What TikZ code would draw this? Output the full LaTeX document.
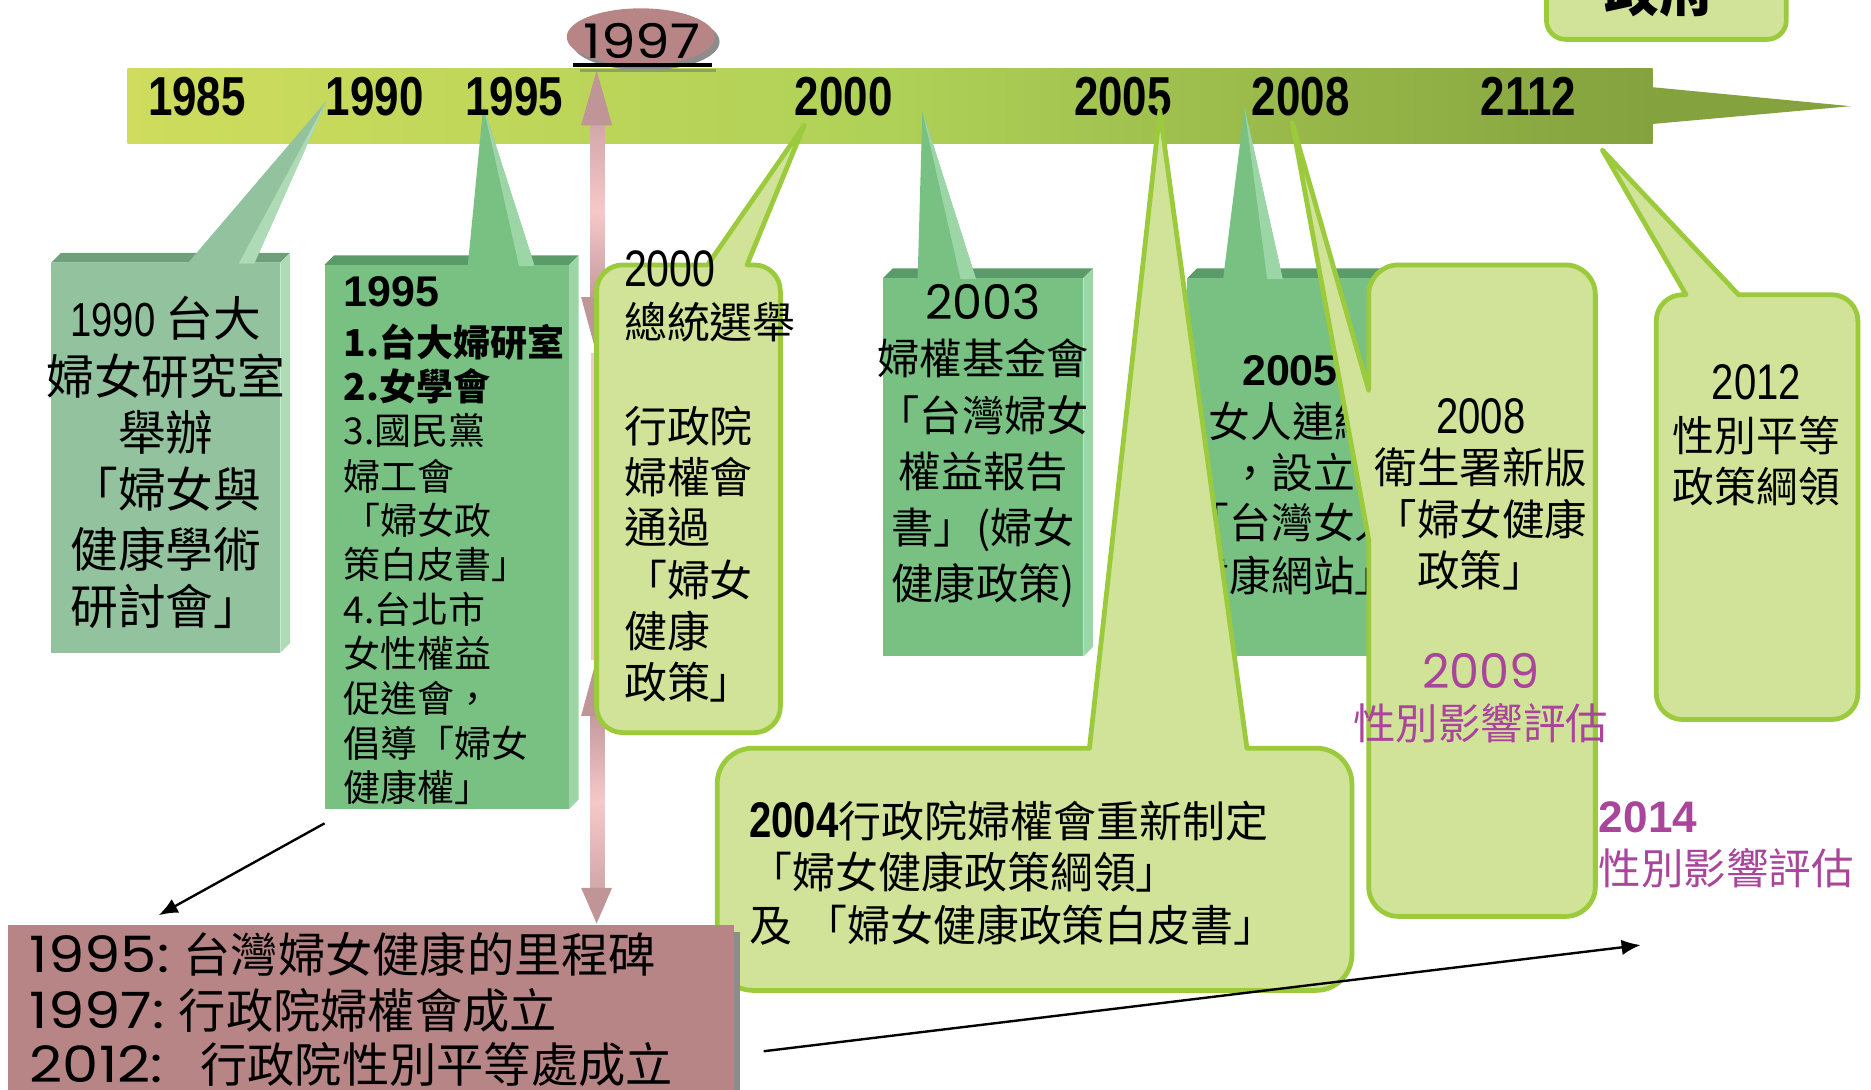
\documentclass[tikz,border=0pt]{standalone}
\usepackage{fontspec}
\usetikzlibrary{arrows.meta}
\newfontfamily\cjk{Noto Sans CJK TC}
\newfontfamily\nar[FakeStretch=0.8]{Liberation Sans}
\newfontfamily\lib{Liberation Sans}
\newfontfamily\geo{Poppins}
\newfontfamily\geow[FakeStretch=1.15]{Poppins}
\definecolor{barL}{HTML}{CFDC5D}
\definecolor{barM}{HTML}{AFD157}
\definecolor{barR}{HTML}{84A23E}
\definecolor{gA}{HTML}{93C39E}
\definecolor{gAt}{HTML}{6F9F7B}
\definecolor{gAs}{HTML}{AEDAB5}
\definecolor{gB}{HTML}{78C183}
\definecolor{gBt}{HTML}{5B9B69}
\definecolor{gBs}{HTML}{9DD6A6}
\definecolor{lgf}{HTML}{D1E399}
\definecolor{lgb}{HTML}{9BCB3C}
\definecolor{rose}{HTML}{B88586}
\definecolor{mag}{HTML}{A9459B}
\definecolor{pinkA}{HTML}{F6C8CA}
\definecolor{pk1}{HTML}{D2A7AA}
\definecolor{pk2}{HTML}{C49A9D}
\definecolor{mauve}{HTML}{BF9598}
\definecolor{ulsh}{HTML}{8DA35B}
\newcommand\tdbox[7]{%
 \fill[#6] (#1,#2) -- ({#1+8},{#2-8}) -- ({#3+8},{#2-8}) -- (#3,#2) -- cycle;
 \fill[#7] (#3,#2) -- ({#3+8},{#2-8}) -- ({#3+8},{#4-8}) -- (#3,#4) -- cycle;
 \fill[#5] (#1,#2) rectangle (#3,#4);}
\newcommand\tdptr[7]{%
 \fill[#6] (#1,#2) -- (#3,#5) -- (#4,#5) -- cycle;
 \fill[#7] (#1,#2) -- ({#4-13},#5) -- (#4,#5) -- cycle;}
\newcommand\cbox[6]{%
 \draw[callout] (#1,{#2+#5}) arc[start angle=180,end angle=270,radius=#5] #6 -- ({#3-#5},#2) arc[start angle=270,end angle=360,radius=#5] -- (#3,{#4-#5}) arc[start angle=0,end angle=90,radius=#5] -- ({#1+#5},#4) arc[start angle=90,end angle=180,radius=#5] -- cycle;}
\begin{document}
\begin{tikzpicture}[x=0.5pt,y=-0.5pt,
  cj/.style={inner sep=0pt,outer sep=0pt,text height=0.83em,text depth=0.07em},
  nm/.style={inner sep=0pt,outer sep=0pt,text height=0.72em,text depth=0pt},
  callout/.style={fill=lgf,draw=lgb,line width=2pt,line join=round},
  blk/.style={line width=1pt,-{Latex[length=8pt,width=6.5pt]}}]
\useasboundingbox (0,0) rectangle (1568,913);
% timeline bar
\shade[left color=barL,right color=barR,middle color=barM] (107,57) rectangle (1385,120);
\fill[barR] (1384,73) -- (1551,89) -- (1384,104) -- cycle;
% pink vertical arrows
\shade[top color=pk1,bottom color=pk2,middle color=pinkA] (495,104) rectangle (507,250);
\fill[pinkA] (495,296) rectangle (507,553);
\shade[top color=pk2,bottom color=pk1,middle color=pinkA] (495,599) rectangle (507,745);
\fill[mauve] (500,59) -- (487,105) -- (513,105) -- cycle;
\fill[mauve] (500,297) -- (487,249) -- (513,249) -- cycle;
\fill[mauve] (500,552) -- (487,600) -- (513,600) -- cycle;
\fill[mauve] (500,774) -- (487,744) -- (513,744) -- cycle;
% box A (1990)
\tdbox{43}{220}{235}{547}{gA}{gAt}{gAs}
\tdptr{274}{84}{157}{213}{221}{gA}{gAs}
\begin{scope}\cjk\fontsize{20pt}{24pt}\selectfont
\node[cj] (a1) at (139,267) {{\nar 1990} 台大};
\node[cj] (a2) at (139,315) {婦女研究室};
\node[cj] (a3) at (139,362) {舉辦};
\node[cj] (a4) at (139,410) {「婦女與};
\node[cj] (a5) at (139,460) {健康學術};
\node[cj] (a6) at (139,508) {研討會」};
\end{scope}
% box B (1995)
\tdbox{272}{222}{477}{678}{gB}{gBt}{gBs}
\tdptr{405}{89}{392}{448}{223}{gB}{gBs}
\begin{scope}\lib\bfseries\fontsize{18pt}{20pt}\selectfont
\node[nm,anchor=west] (b0) at (288,244) {1995};
\end{scope}
\begin{scope}\cjk\fontsize{15.5pt}{18pt}\selectfont
\node[cj,anchor=west] (b1) at (288,287) {\bfseries 1.台大婦研室};
\node[cj,anchor=west] (b2) at (288,324) {\bfseries 2.女學會};
\node[cj,anchor=west] (b3) at (288,361) {3.國民黨};
\node[cj,anchor=west] (b4) at (288,399) {婦工會};
\node[cj,anchor=west] (b5) at (288,436) {「婦女政};
\node[cj,anchor=west] (b6) at (288,473) {策白皮書」};
\node[cj,anchor=west] (b7) at (288,511) {4.台北市};
\node[cj,anchor=west] (b8) at (288,548) {女性權益};
\node[cj,anchor=west] (b9) at (288,585) {促進會，};
\node[cj,anchor=west] (b10) at (288,623) {倡導「婦女};
\node[cj,anchor=west] (b11) at (288,660) {健康權」};
\end{scope}
% box D (2003)
\tdbox{740}{233}{908}{550}{gB}{gBt}{gBs}
\tdptr{773}{93}{769}{818}{234}{gB}{gBs}
\begin{scope}\geo\fontsize{20pt}{24pt}\selectfont
\node[nm] (d0) at (824,253) {2003};
\end{scope}
\begin{scope}\cjk\fontsize{17.7pt}{20pt}\selectfont
\node[cj] (d1) at (824,300) {婦權基金會};
\node[cj] (d2) at (824,348) {「台灣婦女};
\node[cj] (d3) at (824,395) {權益報告};
\node[cj] (d4) at (824,442) {書」(婦女};
\node[cj] (d5) at (824,489) {健康政策)};
\end{scope}
% box E (2005)
\tdbox{995}{233}{1180}{550}{gB}{gBt}{gBs}
\tdptr{1043}{90}{1025}{1075}{234}{gB}{gBs}
\begin{scope}\lib\bfseries\fontsize{18pt}{20pt}\selectfont
\node[nm] (e0) at (1081,310) {2005};
\end{scope}
\begin{scope}\cjk\fontsize{17.5pt}{20pt}\selectfont
\node[cj] (e1) at (1083,353) {女人連線};
\node[cj] (e2) at (1083,396) {，設立};
\node[cj] (e3) at (1083,438) {「台灣女人};
\node[cj] (e4) at (1083,482) {健康網站」};
\end{scope}
% year labels on the bar
\begin{scope}\nar\bfseries\fontsize{23pt}{26pt}\selectfont
\node[nm] (y1985) at (165,80) {1985};
\node[nm] (y1990) at (314,80) {1990};
\node[nm] (y1995) at (431,80) {1995};
\node[nm] (y2000) at (707,80) {2000};
\node[nm] (y2005) at (941,80) {2005};
\node[nm] (y2008) at (1090,80) {2008};
\node[nm] (y2112) at (1281,80) {2112};
\end{scope}
% callout C (2000)
\cbox{500}{222}{654}{614}{22}{-- (593,222) -- (674,105) -- (626,222)}
\begin{scope}\nar\fontsize{21.5pt}{24pt}\selectfont
\node[nm,anchor=west] (c0) at (523,225) {2000};
\end{scope}
\begin{scope}\cjk\fontsize{18pt}{20pt}\selectfont
\node[cj,anchor=west] (c1) at (523,270) {總統選舉};
\node[cj,anchor=west] (c2) at (523,357) {行政院};
\node[cj,anchor=west] (c3) at (523,400) {婦權會};
\node[cj,anchor=west] (c4) at (523,442) {通過};
\node[cj,anchor=west] (c5) at (523,486) {「婦女};
\node[cj,anchor=west] (c6) at (523,529) {健康};
\node[cj,anchor=west] (c7) at (523,572) {政策」};
\end{scope}
% callout H (2004)
\cbox{601}{627}{1133}{830}{30}{-- (913,627) -- (972,93) -- (1045,627)}
\begin{scope}\cjk\fontsize{18pt}{20pt}\selectfont
\node[cj,anchor=west] (h1) at (628,688) {{\nar\bfseries\fontsize{21pt}{24pt}\selectfont 2004}行政院婦權會重新制定};
\node[cj,anchor=west] (h2) at (628,731) {「婦女健康政策綱領」};
\node[cj,anchor=west] (h3) at (628,775) {及\hspace{5pt}「婦女健康政策白皮書」};
\end{scope}
% callout F (2008)
\draw[callout] (1172,222) -- (1312,222) arc[start angle=270,end angle=360,radius=25] -- (1337,743) arc[start angle=0,end angle=90,radius=25] -- (1172,768) arc[start angle=90,end angle=180,radius=25] -- (1147,452) -- (1083,103) -- (1147,327) -- (1147,247) arc[start angle=180,end angle=270,radius=25] -- cycle;
\begin{scope}\nar\fontsize{21pt}{24pt}\selectfont
\node[nm] (f0) at (1241,348) {2008};
\end{scope}
\begin{scope}\cjk\fontsize{17.8pt}{20pt}\selectfont
\node[cj] (f1) at (1241,392) {衛生署新版};
\node[cj] (f2) at (1241,435) {「婦女健康};
\node[cj] (f3) at (1241,478) {政策」};
\node[cj,text=mag] (f5) at (1241,606) {性別影響評估};
\end{scope}
\begin{scope}\geo\fontsize{20pt}{24pt}\selectfont
\node[nm,text=mag] (f4) at (1241,563) {2009};
\end{scope}
% callout G (2012)
\cbox{1388}{247}{1557}{603}{22}{-- (1413,247) -- (1343,126) -- (1457,247)}
\begin{scope}\nar\fontsize{21pt}{24pt}\selectfont
\node[nm] (g0) at (1472,320) {2012};
\end{scope}
\begin{scope}\cjk\fontsize{17.5pt}{20pt}\selectfont
\node[cj] (g1) at (1472,365) {性別平等};
\node[cj] (g2) at (1472,408) {政策綱領};
\end{scope}
% top-right box (cut off)
\cbox{1296}{-40}{1497}{33}{16}{}
\begin{scope}\cjk\bfseries\fontsize{23pt}{26pt}\selectfont
\node[cj] (j1) at (1391,-8) {政府};
\end{scope}
% milestone box
\fill[black!45] (13,781) rectangle (620,920);
\fill[rose] (7,775) rectangle (615,920);
\begin{scope}\cjk\fontsize{19.8pt}{22pt}\selectfont
\node[cj,anchor=west] (i1) at (25,800) {{\geow\fontsize{21pt}{24pt}\selectfont 1995:}\hspace{6pt}台灣婦女健康的里程碑};
\node[cj,anchor=west] (i2) at (25,847) {{\geow\fontsize{21pt}{24pt}\selectfont 1997:}\hspace{6pt}行政院婦權會成立};
\node[cj,anchor=west] (i3) at (25,892) {{\geow\fontsize{21pt}{24pt}\selectfont 2012: }\hspace{7pt}行政院性別平等處成立};
\end{scope}
% 1997 ellipse
\fill[black!45] (541,35) ellipse [x radius=62,y radius=24];
\fill[rose] (537,31) ellipse [x radius=62,y radius=24];
\begin{scope}\geow\fontsize{20pt}{24pt}\selectfont
\node[nm] (t1997) at (538,35) {1997};
\end{scope}
\draw[line width=1.2pt,ulsh] (486,59) -- (600,59);
\draw[line width=1.3pt] (480,54.5) -- (597,54.5);
% black arrows
\coordinate (p1) at (272,690);
\coordinate (p2) at (133,767);
\draw[blk] (p1) -- (p2);
\coordinate (q1) at (640,881);
\coordinate (q2) at (1375,792);
\draw[blk] (q1) -- (q2);
% 2014
\begin{scope}\lib\bfseries\fontsize{18.5pt}{20pt}\selectfont
\node[nm,anchor=west,text=mag] (k1) at (1340,684) {2014};
\end{scope}
\begin{scope}\cjk\fontsize{17.8pt}{20pt}\selectfont
\node[cj,anchor=west,text=mag] (k2) at (1340,728) {性別影響評估};
\end{scope}
\end{tikzpicture}
\end{document}
